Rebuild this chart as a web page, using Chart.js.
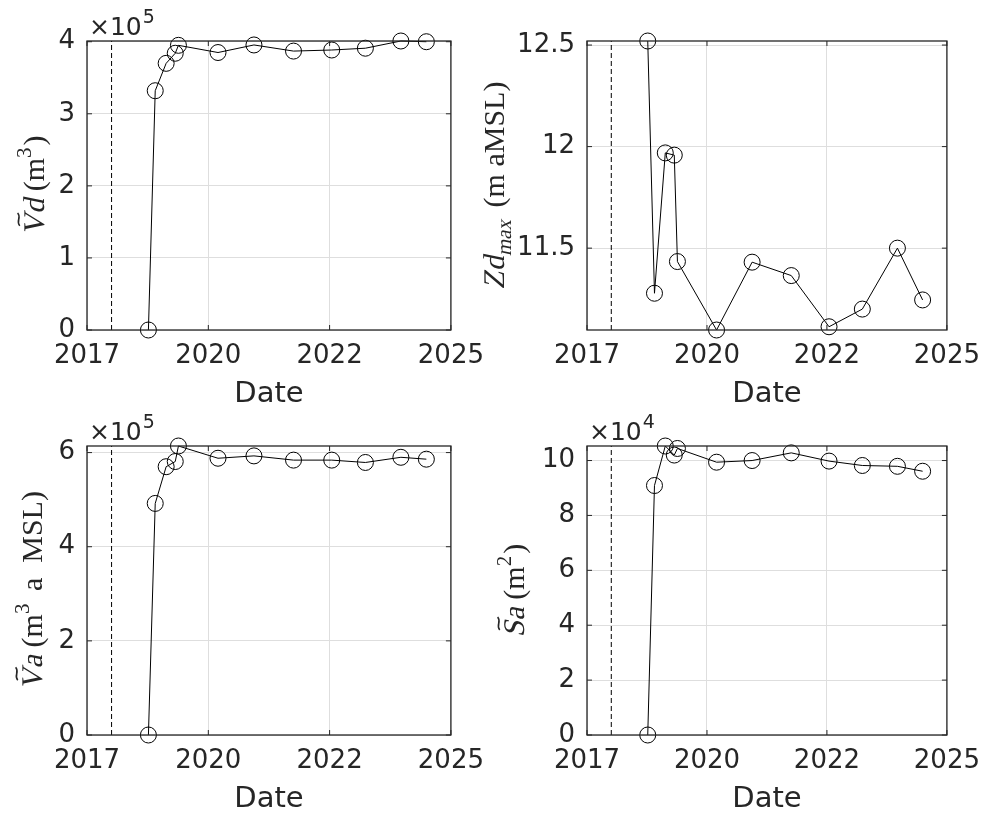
<!DOCTYPE html>
<html>
<head>
<meta charset="utf-8">
<script src="https://cdn.jsdelivr.net/npm/chart.js@4.4.0/dist/chart.umd.min.js"></script>
<style>
  body { margin: 0; background: #fff; }
  #wrap { position: relative; width: 991px; height: 815px; }
  canvas { position: absolute; }
</style>
</head>
<body>
<div id="wrap">
  <canvas id="vdChart" width="495" height="407" style="left:0px;top:0px"></canvas>
  <canvas id="zdChart" width="521" height="407" style="left:470px;top:0px"></canvas>
  <canvas id="vaChart" width="495" height="408" style="left:0px;top:407px"></canvas>
  <canvas id="saChart" width="521" height="408" style="left:470px;top:407px"></canvas>
</div>
<script>
// survey dates as decimal years
const surveyDates = [2018.35, 2018.50, 2018.74, 2018.94, 2019.01, 2019.88, 2020.67, 2021.54, 2022.38, 2023.12, 2023.90, 2024.46];
const constructionDate = 2017.54;

const vdValues = [0, 332000, 370000, 384000, 395000, 385000, 395500, 387000, 388500, 391000, 401000, 400000];
const zdMaxValues = [12.52, 11.278, 11.969, 11.958, 11.434, 11.097, 11.431, 11.365, 11.113, 11.20, 11.50, 11.245];
const vaValues = [0, 492000, 570000, 581000, 614000, 588000, 593000, 584000, 584000, 579000, 590000, 586000];
const saValues = [0, 90900, 105300, 102000, 104400, 99400, 100000, 102800, 99800, 98200, 97900, 96100];

const xTickValues = [2017, 2019.667, 2022.333, 2025];
const xTickLabels = ['2017', '2020', '2022', '2025'];

const vdTicks = [0, 100000, 200000, 300000, 400000];
const zdTicks = [11.5, 12, 12.5];
const vaTicks = [0, 200000, 400000, 600000];
const saTicks = [0, 20000, 40000, 60000, 80000, 100000];

const INK = '#262626';
Chart.defaults.font.family = 'DejaVu Sans';
Chart.defaults.color = INK;

// y label with mixed italic / upright / super- and subscript pieces
// (italic is a sheared upright serif, tilde accent drawn as a curve)
function drawRichTitle(ctx, parts, cx, cy, size) {
    const fontFor = s => s + 'px "Liberation Serif", serif';
    let total = 0;
    const items = parts.map(p => {
        const s = (p.sup || p.sub) ? size * 0.7 : size;
        ctx.font = fontFor(s);
        const w = ctx.measureText(p.t).width + (p.gap || 0);
        total += w;
        return { p, s, w };
    });
    ctx.save();
    ctx.translate(cx, cy);
    ctx.rotate(-Math.PI / 2);
    ctx.fillStyle = INK;
    ctx.strokeStyle = INK;
    ctx.textBaseline = 'alphabetic';
    ctx.textAlign = 'left';
    let x = -total / 2;
    const base = size * 0.33;
    items.forEach(({ p, s, w }) => {
        ctx.font = fontFor(s);
        let dy = base;
        if (p.sup) dy -= size * 0.42;
        if (p.sub) dy += size * 0.22;
        ctx.save();
        ctx.translate(x, dy);
        if (p.it) ctx.transform(1, 0, -0.21, 1, 0, 0);
        ctx.fillText(p.t, 0, 0);
        if (p.tilde) {
            const gw = ctx.measureText(p.t).width;
            const tx = gw * 0.5, ty = -size * 0.84, tw = size * 0.42, amp = size * 0.035;
            ctx.lineWidth = 1.6;
            ctx.beginPath();
            ctx.moveTo(tx - tw / 2, ty + amp);
            ctx.bezierCurveTo(tx - tw / 6, ty - 3 * amp, tx + tw / 6, ty + 3 * amp, tx + tw / 2, ty - amp);
            ctx.stroke();
        }
        ctx.restore();
        x += w;
    });
    ctx.restore();
}

// box, inward ticks, y label and exponent
function makeFrame(title, titleGap, expo) {
    return {
        id: 'frame',
        afterDraw(chart) {
            const { ctx, chartArea: a, scales } = chart;
            ctx.save();
            ctx.strokeStyle = INK;
            ctx.lineWidth = 1.3;
            ctx.strokeRect(a.left, a.top, a.right - a.left, a.bottom - a.top);
            ctx.lineWidth = 1;
            ctx.beginPath();
            scales.x.ticks.forEach(t => {
                const px = scales.x.getPixelForValue(t.value);
                ctx.moveTo(px, a.bottom); ctx.lineTo(px, a.bottom - 5);
                ctx.moveTo(px, a.top); ctx.lineTo(px, a.top + 5);
            });
            scales.y.ticks.forEach(t => {
                const py = scales.y.getPixelForValue(t.value);
                ctx.moveTo(a.left, py); ctx.lineTo(a.left + 5, py);
                ctx.moveTo(a.right, py); ctx.lineTo(a.right - 5, py);
            });
            ctx.stroke();

            drawRichTitle(ctx, title, a.left - titleGap, (a.top + a.bottom) / 2, 30);

            if (expo) {
                ctx.fillStyle = INK;
                ctx.textBaseline = 'alphabetic';
                ctx.textAlign = 'left';
                ctx.font = '25px "DejaVu Sans"';
                const base = '\u00D710';
                ctx.fillText(base, a.left + 2, a.top - 6);
                const w = ctx.measureText(base).width;
                ctx.font = '19px "DejaVu Sans"';
                ctx.fillText(expo, a.left + 3 + w, a.top - 18);
            }
            ctx.restore();
        }
    };
}

function makePanel(p) {
    const yMin = Math.min(...p.values);
    const yMax = Math.max(...p.values);
    new Chart(document.getElementById(p.id), {
        type: 'line',
        data: {
            datasets: [
                {
                    data: surveyDates.map((d, i) => ({ x: d, y: p.values[i] })),
                    borderColor: '#000',
                    borderWidth: 1,
                    pointRadius: 8,
                    pointBorderWidth: 1,
                    pointBorderColor: '#000',
                    pointBackgroundColor: 'rgba(0,0,0,0)',
                    tension: 0,
                    clip: false
                },
                {
                    // construction date
                    data: [{ x: constructionDate, y: yMin }, { x: constructionDate, y: yMax }],
                    borderColor: '#000',
                    borderWidth: 1,
                    borderDash: [5, 3],
                    pointRadius: 0
                }
            ]
        },
        options: {
            responsive: false,
            animation: false,
            events: [],
            layout: { padding: { top: p.padTop, right: p.padRight, left: 0, bottom: 0 } },
            plugins: { legend: { display: false }, tooltip: { enabled: false } },
            scales: {
                x: {
                    type: 'linear',
                    min: 2017,
                    max: 2025,
                    afterBuildTicks: s => { s.ticks = xTickValues.map(v => ({ value: v })); },
                    afterFit: s => { s.height = p.xHeight; },
                    ticks: {
                        autoSkip: false,
                        maxRotation: 0,
                        padding: 11,
                        font: { size: 26 },
                        color: INK,
                        callback: (v, i) => xTickLabels[i]
                    },
                    grid: { color: '#dedede', drawTicks: false },
                    border: { display: false },
                    title: {
                        display: true,
                        text: 'Date',
                        font: { size: 29, lineHeight: 1 },
                        color: INK,
                        padding: { top: 0, bottom: p.titlePad }
                    }
                },
                y: {
                    type: 'linear',
                    min: yMin,
                    max: yMax,
                    afterBuildTicks: s => { s.ticks = p.ticks.map(v => ({ value: v })); },
                    afterFit: s => { s.width = p.yWidth; },
                    ticks: {
                        padding: 12,
                        font: { size: 26 },
                        color: INK,
                        callback: v => String(+(v / p.scale).toFixed(2))
                    },
                    grid: { color: '#dedede', drawTicks: false },
                    border: { display: false }
                }
            }
        },
        plugins: [makeFrame(p.title, p.titleGap, p.expo)]
    });
}

makePanel({
    id: 'vdChart', values: vdValues, ticks: vdTicks, scale: 1e5, expo: '5',
    padTop: 41, padRight: 40, yWidth: 87, xHeight: 77, titlePad: -2, titleGap: 53,
    title: [{ t: 'V', it: true, tilde: true }, { t: 'd', it: true }, { t: ' (m' }, { t: '3', sup: true, gap: 2 }, { t: ')' }]
});
makePanel({
    id: 'zdChart', values: zdMaxValues, ticks: zdTicks, scale: 1, expo: null,
    padTop: 41, padRight: 35, yWidth: 117, xHeight: 77, titlePad: -2, titleGap: 93,
    title: [{ t: 'Zd', it: true }, { t: 'max', it: true, sub: true, gap: 5 }, { t: ' (m aMSL)' }]
});
makePanel({
    id: 'vaChart', values: vaValues, ticks: vaTicks, scale: 1e5, expo: '5',
    padTop: 39, padRight: 40, yWidth: 87, xHeight: 80, titlePad: 1, titleGap: 55,
    title: [{ t: 'V', it: true, tilde: true }, { t: 'a', it: true }, { t: ' (m' }, { t: '3', sup: true, gap: 5 }, { t: ' a  MSL)' }]
});
makePanel({
    id: 'saChart', values: saValues, ticks: saTicks, scale: 1e4, expo: '4',
    padTop: 39, padRight: 35, yWidth: 117, xHeight: 80, titlePad: 1, titleGap: 73,
    title: [{ t: 'S', it: true, tilde: true }, { t: 'a', it: true }, { t: ' (m' }, { t: '2', sup: true, gap: 2 }, { t: ')' }]
});
</script>
</body>
</html>
